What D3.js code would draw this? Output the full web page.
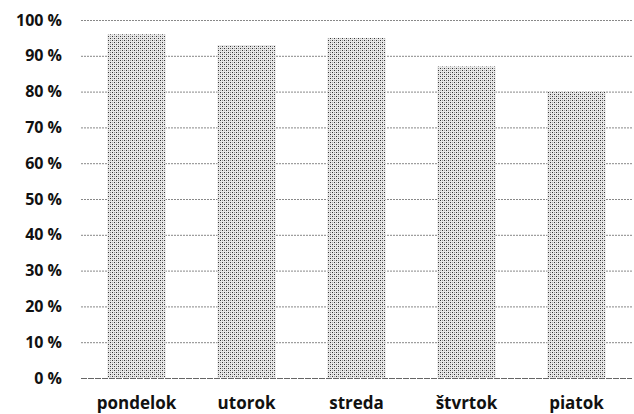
<!DOCTYPE html>
<html>
<head>
<meta charset="utf-8">
<script src="https://cdn.jsdelivr.net/npm/d3@7"></script>
<style>
body { margin: 0; background: #fff; }
text { font-family: "Open Sans", sans-serif; font-weight: bold; fill: #111; }
</style>
</head>
<body>
<script>
// Days and share values (%)
var days = ["pondelok", "utorok", "streda", "štvrtok", "piatok"];
var values = [96, 93, 95, 87, 80];
var yTicks = [0, 10, 20, 30, 40, 50, 60, 70, 80, 90, 100];

var w = 634, h = 414;
var margin = {top: 20, right: 2, bottom: 36, left: 81};

var svg = d3.select("body").append("svg")
    .attr("width", w)
    .attr("height", h);

// dotted fill like the original print
var defs = svg.append("defs");
var pat = defs.append("pattern")
    .attr("id", "dots")
    .attr("width", 4)
    .attr("height", 4)
    .attr("patternUnits", "userSpaceOnUse");
pat.append("rect").attr("width", 4).attr("height", 4).attr("fill", "#e8e8e8");
pat.append("rect").attr("x", 0).attr("y", 0).attr("width", 1).attr("height", 1).attr("fill", "#333");
pat.append("rect").attr("x", 2).attr("y", 2).attr("width", 1).attr("height", 1).attr("fill", "#333");
pat.append("rect").attr("x", 2).attr("y", 0).attr("width", 1).attr("height", 1).attr("fill", "#999");
pat.append("rect").attr("x", 0).attr("y", 2).attr("width", 1).attr("height", 1).attr("fill", "#aaa");

var x = d3.scaleBand()
    .domain(days)
    .range([margin.left, w - margin.right])
    .paddingInner(0.47)
    .paddingOuter(0.24);

var y = d3.scaleLinear()
    .domain([0, 100])
    .range([h - margin.bottom, margin.top]);

// gridlines
svg.append("g")
    .selectAll("line")
    .data(yTicks)
    .enter()
    .append("line")
    .attr("x1", margin.left)
    .attr("x2", w - margin.right)
    .attr("y1", function(d) { return y(d) + 0.5; })
    .attr("y2", function(d) { return y(d) + 0.5; })
    .attr("stroke", function(d) { return d === 0 ? "#666" : "#888"; })
    .attr("stroke-dasharray", function(d) { return d === 0 ? "6,1" : "2,1"; })
    .attr("stroke-width", 1);

// y axis labels
var yAxis = d3.axisLeft(y)
    .tickValues(yTicks)
    .tickSize(0)
    .tickPadding(19)
    .tickFormat(function(d) { return d + " %"; });

svg.append("g")
    .attr("transform", "translate(" + margin.left + ",0)")
    .call(yAxis)
    .call(function(g) { g.select(".domain").remove(); })
    .selectAll("text")
    .style("font-size", "16px")
    .style("font-family", "'Open Sans', sans-serif")
    .style("font-weight", "bold")
    .attr("fill", "#111");

// bars
svg.append("g")
    .selectAll("rect")
    .data(values)
    .enter()
    .append("rect")
    .attr("x", function(d, i) { return x(days[i]); })
    .attr("width", x.bandwidth())
    .attr("y", function(d) { return y(d); })
    .attr("height", function(d) { return y(0) - y(d); })
    .attr("fill", "url(#dots)");

// x axis labels
var xAxis = d3.axisBottom(x)
    .tickSize(0)
    .tickPadding(19);

svg.append("g")
    .attr("transform", "translate(0," + y(0) + ")")
    .call(xAxis)
    .call(function(g) { g.select(".domain").remove(); })
    .selectAll("text")
    .style("font-size", "17px")
    .style("font-family", "'Open Sans', sans-serif")
    .style("font-weight", "bold")
    .attr("fill", "#111");
</script>
</body>
</html>
